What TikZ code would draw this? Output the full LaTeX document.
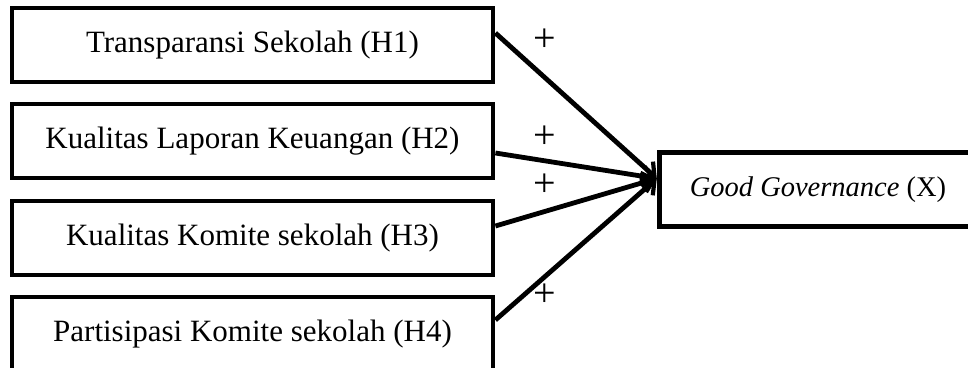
\documentclass[tikz,border=0pt]{standalone}
\usepackage{fontspec}
\setmainfont{Liberation Serif}
\usetikzlibrary{arrows.meta}
\begin{document}
\begin{tikzpicture}[x=1pt,y=-1pt,
  varbox/.style={draw,line width=4.8pt,minimum width=481pt,minimum height=74pt,
    inner sep=0pt,font=\fontsize{31}{35}\selectfont},
  outbox/.style={minimum width=360pt,minimum height=73pt,inner sep=0pt},
  boxline/.style={line width=4.8pt,line join=miter},
  boxtext/.style={inner sep=0pt,font=\fontsize{28.5}{33}\selectfont},
  link/.style={line width=4.8pt,-{Straight Barb[length=11pt,width=20pt,line width=4.2pt]}},
  sign/.style={font=\fontsize{40}{44}\selectfont,inner sep=0pt}]
\useasboundingbox (0,0) rectangle (968,367);
\clip (0,0) rectangle (968,367);
\node[varbox] (h1) at (252.5,45) {Transparansi Sekolah (H1)};
\node[varbox] (h2) at (252.5,141) {Kualitas Laporan Keuangan (H2)};
\node[varbox] (h3) at (252.5,238) {Kualitas Komite sekolah (H3)};
\node[varbox] (h4) at (252.5,334) {Partisipasi Komite sekolah (H4)};
% the outcome box runs on past the right margin: only three sides are drawn
\node[outbox] (gg) at (840,189.5) {};
\draw[boxline] (gg.north east) -- (gg.north west) -- (gg.south west) -- (gg.south east);
\node[boxtext] (ggtext) at (818,189.5) {\textit{Good Governance} (X)};
\coordinate (tip) at ([xshift=-3pt,yshift=11pt]gg.west);
\draw[link] ([yshift=12pt]h1.east) -- (tip);
\draw[link] ([yshift=-12pt]h2.east) -- (tip);
\draw[link] ([yshift=12pt]h3.east) -- (tip);
\draw[link] ([yshift=14pt]h4.east) -- (tip);
\node[sign] (p1) at (545,40) {+};
\node[sign] (p2) at (545,137) {+};
\node[sign] (p3) at (545,185) {+};
\node[sign] (p4) at (545,295) {+};
\end{tikzpicture}
\end{document}
